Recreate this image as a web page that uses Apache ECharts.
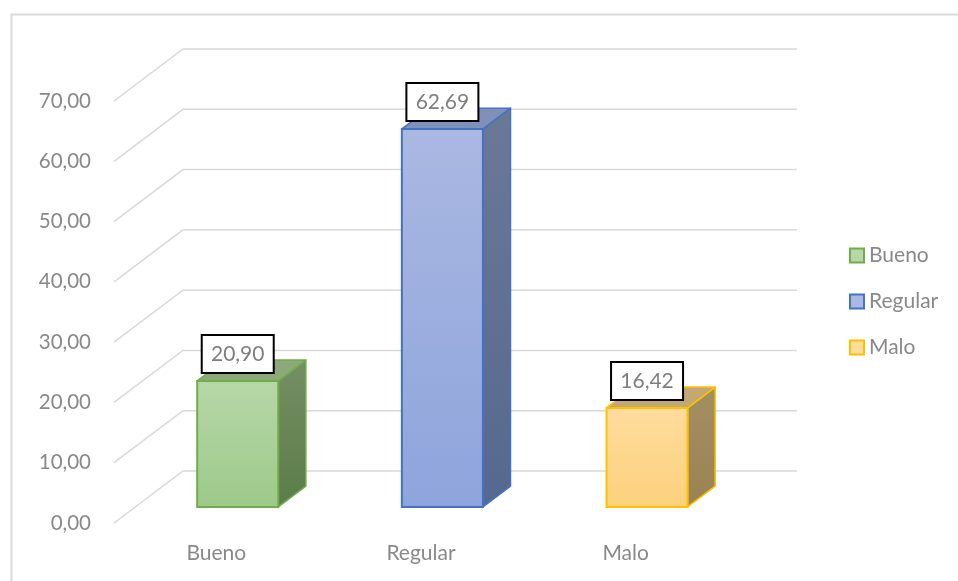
<!DOCTYPE html>
<html>
<head>
<meta charset="utf-8">
<script src="https://cdn.jsdelivr.net/npm/echarts@6/dist/echarts.min.js"></script>
<style>html,body{margin:0;padding:0;background:#fff}#c{width:958px;height:581px}</style>
</head>
<body>
<div id="c"></div>
<script>
const categories = ['Bueno', 'Regular', 'Malo'];
const values = [20.90, 62.69, 16.42];
const yTicks = [0, 10, 20, 30, 40, 50, 60, 70];

const FONT = 'Lato, "Open Sans", sans-serif';
const DX = 69, DY = -52;          // depth of the 3D box
const BAR_D0 = 0.31, BAR_D1 = 0.71; // bar depth range (fraction)
const BAR_W = 0.396;              // bar width fraction of band

const palette = [
  {front: ['#b7d7a8', '#9cc98a'], border: '#70ad47', side: ['#758f64', '#5b7c49'], top: '#8ca97c'},
  {front: ['#aab8e2', '#8ea4dc'], border: '#4472c4', side: ['#6a7996', '#56688f'], top: '#8090b8'},
  {front: ['#fedc9e', '#fdd17c'], border: '#ffc000', side: ['#a48f62', '#9a8352'], top: '#c4a874'}
];

function fmt(v) { return v.toFixed(2).replace('.', ','); }

function lg(c) {
  return new echarts.graphic.LinearGradient(0, 0, 0, 1, [{offset: 0, color: c[0]}, {offset: 1, color: c[1]}]);
}

function gridRender(params, api) {
  const v = api.value(1);
  const c = api.coord([0, v]);
  const band = api.size([1, 0])[0];
  const xL = c[0] - band / 2;
  const xR = xL + band * categories.length;
  const y = c[1];
  return {
    type: 'polyline',
    shape: {points: [[xL, y], [xL + DX, y + DY], [xR + DX, y + DY]]},
    style: {stroke: '#d9d9d9', lineWidth: 1.5, fill: null},
    silent: true
  };
}

function barRender(params, api) {
  const idx = api.value(0);
  const val = api.value(1);
  const p0 = api.coord([idx, 0]);
  const p1 = api.coord([idx, val]);
  const band = api.size([1, 0])[0];
  const w = band * BAR_W;
  const h = p0[1] - p1[1];
  const cx = p0[0] + DX * BAR_D0;
  const yb = p0[1] + DY * BAR_D0;
  const x0 = cx - w / 2, x1 = cx + w / 2, yt = yb - h;
  const ddx = DX * (BAR_D1 - BAR_D0), ddy = DY * (BAR_D1 - BAR_D0);
  const pal = palette[idx];
  return {
    type: 'group',
    children: [
      {type: 'polygon', shape: {points: [[x1, yb], [x1, yt], [x1 + ddx, yt + ddy], [x1 + ddx, yb + ddy]]},
        style: {fill: lg(pal.side), stroke: pal.border, lineWidth: 1.5, lineJoin: 'round'}},
      {type: 'polygon', shape: {points: [[x0, yt], [x1, yt], [x1 + ddx, yt + ddy], [x0 + ddx, yt + ddy]]},
        style: {fill: pal.top, stroke: pal.border, lineWidth: 1.5, lineJoin: 'round'}},
      {type: 'rect', shape: {x: x0, y: yt, width: w, height: h},
        style: {fill: lg(pal.front), stroke: pal.border, lineWidth: 2}},
      {type: 'rect', shape: {x: cx - 36, y: yt - 27 - 19, width: 72, height: 38},
        style: {fill: '#ffffff', stroke: '#000000', lineWidth: 2}},
      {type: 'text', x: cx, y: yt - 27,
        style: {text: fmt(val), font: '21px ' + FONT, fill: '#7f7f7f', align: 'center', verticalAlign: 'middle'}}
    ]
  };
}

const series = [{
  type: 'custom',
  name: '_grid',
  renderItem: gridRender,
  data: yTicks.map(v => [0, v]),
  encode: {x: 0, y: 1},
  z: 1,
  silent: true
}];
categories.forEach((c, i) => {
  series.push({
    type: 'custom',
    name: c,
    renderItem: barRender,
    data: [[i, values[i]]],
    encode: {x: 0, y: 1},
    itemStyle: {color: palette[i].front[0]},
    z: 5
  });
});

const chart = echarts.init(document.getElementById('c'));
chart.setOption({
  animation: false,
  backgroundColor: '#ffffff',
  grid: {left: 114, right: 230, top: 101, bottom: 58, containLabel: false},
  xAxis: {
    type: 'category',
    data: categories,
    axisLine: {show: false},
    axisTick: {show: false},
    axisLabel: {color: '#898989', fontFamily: FONT, fontSize: 21, margin: 20},
    splitLine: {show: false}
  },
  yAxis: {
    type: 'value',
    min: 0, max: 70, interval: 10,
    axisLine: {show: false},
    axisTick: {show: false},
    splitLine: {show: false},
    axisLabel: {color: '#898989', fontFamily: FONT, fontSize: 20.5, margin: 23, formatter: v => fmt(v)}
  },
  legend: {
    orient: 'vertical',
    left: 844, top: 240,
    padding: 5,
    itemWidth: 14, itemHeight: 14, itemGap: 25,
    icon: 'rect',
    textStyle: {color: '#898989', fontFamily: FONT, fontSize: 21, lineHeight: 20, padding: 0},
    data: categories.map((c, i) => ({name: c, itemStyle: {color: palette[i].front[0], borderColor: palette[i].border, borderWidth: 2}}))
  },
  graphic: [{
    type: 'rect', left: 9, top: 12, z: 0,
    shape: {width: 1000, height: 640},
    style: {fill: null, stroke: '#d9d9d9', lineWidth: 2}
  }],
  series: series
});
</script>
</body>
</html>
